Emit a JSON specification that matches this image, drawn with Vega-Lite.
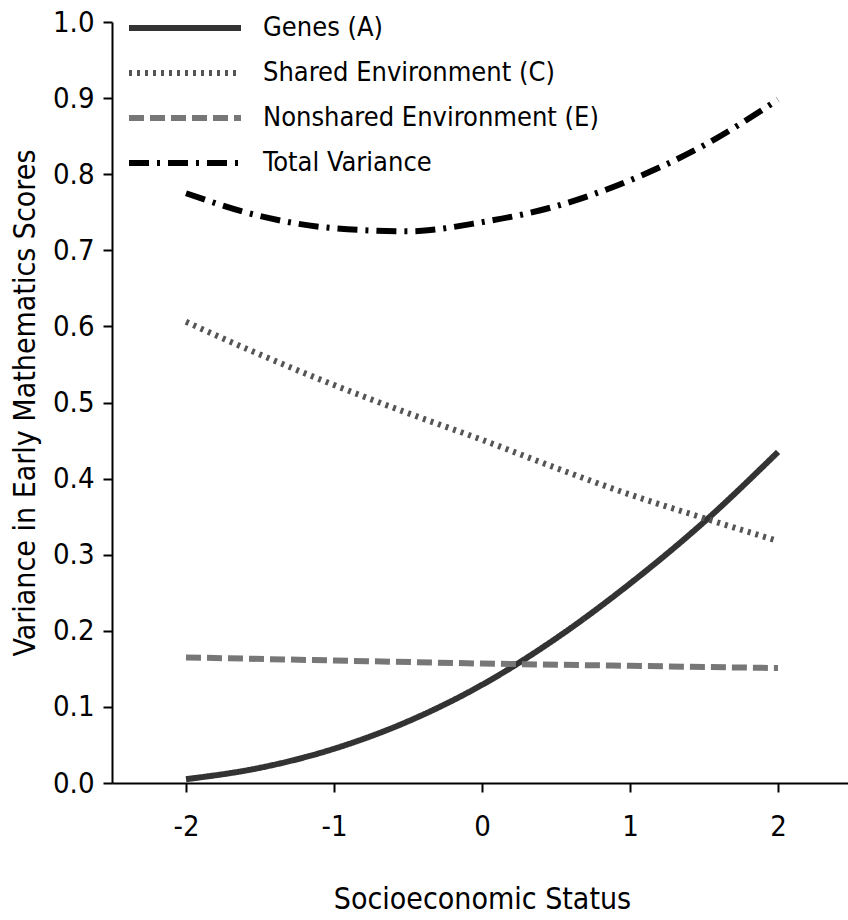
{
  "$schema": "https://vega.github.io/schema/vega-lite/v6.json",
  "autosize": {"type": "none"},
  "padding": {"left": 112, "top": 22, "right": 0, "bottom": 137},
  "width": 740,
  "height": 761,
  "background": "white",
  "config": {
    "view": {"stroke": null},
    "font": "DejaVu Sans Condensed, Liberation Sans Narrow, Arial Narrow, sans-serif",
    "axis": {
      "grid": false,
      "domainColor": "#000",
      "domainWidth": 2,
      "tickColor": "#000",
      "tickWidth": 2,
      "tickSize": 9,
      "labelFont": "DejaVu Sans Condensed, Liberation Sans Narrow, Arial Narrow, sans-serif",
      "titleFont": "DejaVu Sans Condensed, Liberation Sans Narrow, Arial Narrow, sans-serif",
      "labelColor": "#000",
      "titleColor": "#000",
      "labelFontSize": 29,
      "titleFontSize": 30,
      "titleFontWeight": "normal"
    }
  },
  "data": {
    "values": [
      {"ses": -2, "series": "Genes (A)", "v": 0.005},
      {"ses": -1.5, "series": "Genes (A)", "v": 0.02},
      {"ses": -1, "series": "Genes (A)", "v": 0.045},
      {"ses": -0.5, "series": "Genes (A)", "v": 0.081},
      {"ses": 0, "series": "Genes (A)", "v": 0.129},
      {"ses": 0.5, "series": "Genes (A)", "v": 0.19},
      {"ses": 1, "series": "Genes (A)", "v": 0.262},
      {"ses": 1.5, "series": "Genes (A)", "v": 0.343},
      {"ses": 2, "series": "Genes (A)", "v": 0.435},
      {"ses": -2, "series": "Shared Environment (C)", "v": 0.606},
      {"ses": -1.5, "series": "Shared Environment (C)", "v": 0.563},
      {"ses": -1, "series": "Shared Environment (C)", "v": 0.523},
      {"ses": -0.5, "series": "Shared Environment (C)", "v": 0.486},
      {"ses": 0, "series": "Shared Environment (C)", "v": 0.451},
      {"ses": 0.5, "series": "Shared Environment (C)", "v": 0.414},
      {"ses": 1, "series": "Shared Environment (C)", "v": 0.379},
      {"ses": 1.5, "series": "Shared Environment (C)", "v": 0.348},
      {"ses": 2, "series": "Shared Environment (C)", "v": 0.318},
      {"ses": -2, "series": "Nonshared Environment (E)", "v": 0.165},
      {"ses": -1, "series": "Nonshared Environment (E)", "v": 0.161},
      {"ses": 0, "series": "Nonshared Environment (E)", "v": 0.157},
      {"ses": 1, "series": "Nonshared Environment (E)", "v": 0.154},
      {"ses": 2, "series": "Nonshared Environment (E)", "v": 0.151},
      {"ses": -2, "series": "Total Variance", "v": 0.775},
      {"ses": -1.5, "series": "Total Variance", "v": 0.745},
      {"ses": -1, "series": "Total Variance", "v": 0.729},
      {"ses": -0.5, "series": "Total Variance", "v": 0.725},
      {"ses": 0, "series": "Total Variance", "v": 0.737},
      {"ses": 0.5, "series": "Total Variance", "v": 0.758},
      {"ses": 1, "series": "Total Variance", "v": 0.792},
      {"ses": 1.5, "series": "Total Variance", "v": 0.838},
      {"ses": 2, "series": "Total Variance", "v": 0.898}
    ]
  },
  "mark": {"type": "line", "interpolate": "monotone", "strokeCap": "butt"},
  "encoding": {
    "x": {
      "field": "ses", "type": "quantitative",
      "scale": {"domain": [-2.5, 2.5], "nice": false, "zero": false},
      "axis": {"values": [-2, -1, 0, 1, 2], "title": "Socioeconomic Status", "titlePadding": 43, "labelPadding": 20, "labelExpr": "'' + datum.value"}
    },
    "y": {
      "field": "v", "type": "quantitative",
      "scale": {"domain": [0, 1], "nice": false},
      "axis": {"values": [0, 0.1, 0.2, 0.3, 0.4, 0.5, 0.6, 0.7, 0.8, 0.9, 1.0], "format": ".1f", "title": "Variance in Early Mathematics Scores", "titlePadding": 12, "labelPadding": 9}
    },
    "color": {
      "field": "series", "type": "nominal",
      "scale": {"domain": ["Genes (A)", "Shared Environment (C)", "Nonshared Environment (E)", "Total Variance"], "range": ["#333333", "#555555", "#777777", "#000000"]},
      "legend": {
        "title": null,
        "orient": "none",
        "legendX": 56,
        "legendY": -11,
        "symbolType": "M-4,0L4,0",
        "symbolSize": 784,
        "symbolStrokeWidth": 6,
        "symbolFillColor": "transparent",
        "labelFontSize": 27,
        "labelColor": "#000",
        "labelOffset": 61,
        "labelLimit": 500,
        "rowPadding": 15
      }
    },
    "strokeDash": {
      "field": "series", "type": "nominal",
      "scale": {"domain": ["Genes (A)", "Shared Environment (C)", "Nonshared Environment (E)", "Total Variance"], "range": [[1, 0], [3, 5], [15, 6], [20, 8, 3, 8]]},
      "legend": null
    },
    "strokeWidth": {"value": 6}
  }
}
